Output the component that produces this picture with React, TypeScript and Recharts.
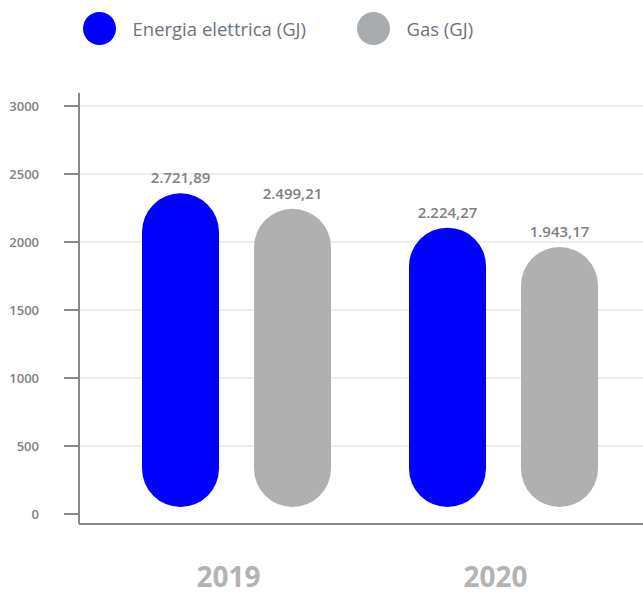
import { BarChart, Bar, XAxis, YAxis, CartesianGrid, LabelList } from "recharts"

const years = ["2019", "2020"]
const energia = [2721.89, 2224.27]
const gas = [2499.21, 1943.17]
const yTicks = [0, 500, 1000, 1500, 2000, 2500, 3000]
const seriesNames = ["Energia elettrica (GJ)", "Gas (GJ)"]
const barColors = ["#0000ff", "#b0b0b0"]
const legendColors = ["#0000ff", "#a9acaf"]

const data = years.map((year, i) => ({ year, energia: energia[i], gas: gas[i] }))

const CHART_W = 643
const CHART_H = 594
const X_AXIS_H = 70
const BAR_BASE_PAD = 17
const AXIS_GREY = "#8a8a8a"

// italian number format: 2.721,89
function formatIt(v: number) {
  const [int, dec] = v.toFixed(2).split(".")
  return int.replace(/\B(?=(\d{3})+(?!\d))/g, ".") + "," + dec
}

// pill shaped bar, top comes from the scale, bottom sits on the base of the bar axis
function Pill(props: any) {
  const { x, y, width, fill, background } = props
  const bottom = background
    ? background.y + background.height - BAR_BASE_PAD
    : CHART_H - X_AXIS_H - BAR_BASE_PAD
  const r = width / 2
  return (
    <rect
      x={x}
      y={y}
      width={width}
      height={Math.max(bottom - y, width)}
      rx={r}
      ry={r}
      fill={fill}
    />
  )
}

function YearTick(props: any) {
  const { x, y, payload } = props
  return (
    <text
      x={x - 8}
      y={y}
      dy="0.71em"
      textAnchor="middle"
      fontSize={28}
      fontWeight={700}
      fill="#b3b3b3"
    >
      {payload.value}
    </text>
  )
}

export default function App() {
  return (
    <div
      style={{
        position: "relative",
        width: CHART_W,
        height: CHART_H,
        fontFamily: "'Open Sans', sans-serif",
      }}
    >
      <style>{`body { margin: 0; }`}</style>
      <div
        style={{
          position: "absolute",
          top: 12,
          left: 83,
          display: "flex",
          alignItems: "center",
          height: 33,
        }}
      >
        {seriesNames.map((name, i) => (
          <div
            key={name}
            style={{ display: "flex", alignItems: "center", width: i === 0 ? 274 : "auto" }}
          >
            <span
              style={{
                display: "inline-block",
                width: 33,
                height: 33,
                borderRadius: "50%",
                background: legendColors[i],
                marginRight: 16.5,
              }}
            />
            <span style={{ fontSize: 18.5, color: "#6b737c" }}>{name}</span>
          </div>
        ))}
      </div>
      <BarChart
        width={CHART_W}
        height={CHART_H}
        data={data}
        margin={{ top: 93, right: 0, bottom: 0, left: 0 }}
        barSize={77}
        barGap={35}
      >
        <CartesianGrid
          vertical={false}
          yAxisId="val"
          horizontalValues={yTicks.slice(1)}
          stroke="#dddddd"
        />
        <XAxis
          dataKey="year"
          height={X_AXIS_H}
          padding={{ left: 24, right: 6 }}
          tickLine={false}
          tickSize={0}
          tickMargin={43}
          interval={0}
          axisLine={{ stroke: AXIS_GREY, strokeWidth: 2 }}
          tick={(p: any) => <YearTick {...p} />}
        />
        <YAxis
          yAxisId="val"
          width={79}
          type="number"
          domain={[0, 3000]}
          allowDataOverflow
          ticks={yTicks}
          interval={0}
          padding={{ top: 13, bottom: 10 }}
          tickSize={15}
          tickMargin={25}
          tickLine={{ stroke: AXIS_GREY, strokeWidth: 2 }}
          axisLine={{ stroke: AXIS_GREY, strokeWidth: 2 }}
          tick={{ fontSize: 13, fontWeight: 600, fill: "#808080" }}
        />
        <YAxis
          yAxisId="bar"
          hide
          width={0}
          type="number"
          domain={[-1828, 4178]}
          allowDataOverflow
          padding={{ top: 0, bottom: BAR_BASE_PAD }}
        />
        <Bar
          yAxisId="bar"
          dataKey="energia"
          name={seriesNames[0]}
          fill={barColors[0]}
          shape={(p: any) => <Pill {...p} />}
          isAnimationActive={false}
        >
          <LabelList
            dataKey="energia"
            position="top"
            offset={10}
            formatter={(v: any) => formatIt(Number(v))}
            fill="#808080"
            fontSize={15}
            fontWeight={600}
          />
        </Bar>
        <Bar
          yAxisId="bar"
          dataKey="gas"
          name={seriesNames[1]}
          fill={barColors[1]}
          shape={(p: any) => <Pill {...p} />}
          isAnimationActive={false}
        >
          <LabelList
            dataKey="gas"
            position="top"
            offset={10}
            formatter={(v: any) => formatIt(Number(v))}
            fill="#808080"
            fontSize={15}
            fontWeight={600}
          />
        </Bar>
      </BarChart>
    </div>
  )
}
